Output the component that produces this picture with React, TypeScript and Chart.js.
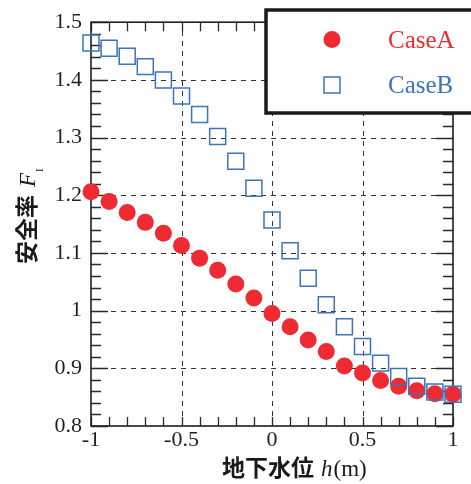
import React, { useEffect, useRef } from 'react';
import { Chart, registerables } from 'chart.js';

Chart.register(...registerables);

// ---- data ----
const waterLevels = [-1, -0.9, -0.8, -0.7, -0.6, -0.5, -0.4, -0.3, -0.2, -0.1, 0, 0.1, 0.2, 0.3, 0.4, 0.5, 0.6, 0.7, 0.8, 0.9, 1];
const caseA = [1.206, 1.189, 1.17, 1.153, 1.134, 1.113, 1.091, 1.07, 1.046, 1.022, 0.995, 0.972, 0.949, 0.929, 0.904, 0.892, 0.879, 0.869, 0.861, 0.856, 0.855];
const caseB = [1.464, 1.455, 1.441, 1.423, 1.4, 1.372, 1.34, 1.302, 1.259, 1.212, 1.157, 1.104, 1.056, 1.01, 0.972, 0.938, 0.909, 0.886, 0.869, 0.859, 0.855];
const xTicks = [-1, -0.5, 0, 0.5, 1];
const yTicks = [0.8, 0.9, 1, 1.1, 1.2, 1.3, 1.4, 1.5];
const xMinorTicks = [-1, -0.9, -0.8, -0.7, -0.6, -0.5, -0.4, -0.3, -0.2, -0.1, 0, 0.1, 0.2, 0.3, 0.4, 0.5, 0.6, 0.7, 0.8, 0.9, 1];
const yMinorTicks = [
  0.8, 0.82, 0.84, 0.86, 0.88, 0.9, 0.92, 0.94, 0.96, 0.98, 1, 1.02, 1.04, 1.06, 1.08, 1.1, 1.12, 1.14, 1.16, 1.18,
  1.2, 1.22, 1.24, 1.26, 1.28, 1.3, 1.32, 1.34, 1.36, 1.38, 1.4, 1.42, 1.44, 1.46, 1.48, 1.5,
];
const seriesNames = ['CaseA', 'CaseB'];
const xTitleCJK = '地下水位';
const xTitleVar = 'h';
const xTitleUnit = '(m)';
const yTitleCJK = '安全率';
const yTitleVar = 'F';
const yTitleSub = 'I';

const RED = '#ee2a33';
const BLUE = '#3b74ba';
const SERIF = "'Liberation Serif', 'Times New Roman', serif";
const CJK = "'Noto Sans CJK JP', 'Noto Sans CJK SC', sans-serif";

const decorPlugin = {
  id: 'decor',
  beforeDatasetsDraw(chart: any) {
    const { ctx, chartArea } = chart;
    const { left, right, top, bottom } = chartArea;
    const xs = chart.scales.x;
    const ys = chart.scales.y;
    ctx.save();
    // dashed grid
    ctx.strokeStyle = '#333';
    ctx.lineWidth = 1;
    ctx.setLineDash([5, 5]);
    for (const v of xTicks) {
      if (v <= xs.min || v >= xs.max) continue;
      const px = Math.round(xs.getPixelForValue(v)) + 0.5;
      ctx.beginPath();
      ctx.moveTo(px, bottom);
      ctx.lineTo(px, top);
      ctx.stroke();
    }
    for (const v of yTicks) {
      if (v <= ys.min || v >= ys.max) continue;
      const py = Math.round(ys.getPixelForValue(v)) + 0.5;
      ctx.beginPath();
      ctx.moveTo(left, py);
      ctx.lineTo(right, py);
      ctx.stroke();
    }
    ctx.setLineDash([]);
    // inward ticks
    ctx.strokeStyle = '#2a2a2a';
    ctx.lineWidth = 1.3;
    for (const v of xMinorTicks) {
      const px = Math.round(xs.getPixelForValue(v)) + 0.5;
      ctx.beginPath();
      ctx.moveTo(px, bottom);
      ctx.lineTo(px, bottom - 9);
      ctx.moveTo(px, top);
      ctx.lineTo(px, top + 9);
      ctx.stroke();
    }
    for (const v of yMinorTicks) {
      const py = Math.round(ys.getPixelForValue(v)) + 0.5;
      const major = yTicks.some((t) => Math.abs(t - v) < 1e-6);
      const len = major ? 17 : 10;
      ctx.beginPath();
      ctx.moveTo(left, py);
      ctx.lineTo(left + len, py);
      ctx.moveTo(right, py);
      ctx.lineTo(right - len, py);
      ctx.stroke();
    }
    // frame
    ctx.strokeStyle = '#1e1e1e';
    ctx.lineWidth = 1.6;
    ctx.strokeRect(left, top, right - left, bottom - top);
    ctx.restore();
  },
  afterDraw(chart: any) {
    const { ctx, chartArea } = chart;
    ctx.save();
    // x title
    ctx.fillStyle = '#1a1a1a';
    ctx.textBaseline = 'alphabetic';
    ctx.textAlign = 'left';
    const xStart = 222;
    const xBase = 476;
    ctx.font = `bold 23px ${CJK}`;
    ctx.fillText(xTitleCJK, xStart, xBase);
    let cx = xStart + ctx.measureText(xTitleCJK).width + 7;
    ctx.font = `italic 23px ${SERIF}`;
    ctx.fillText(xTitleVar, cx, xBase);
    cx += ctx.measureText(xTitleVar).width + 1;
    ctx.font = `23px ${SERIF}`;
    ctx.fillText(xTitleUnit, cx, xBase);

    // y title (rotated)
    ctx.save();
    ctx.translate(35, 264);
    ctx.rotate(-Math.PI / 2);
    ctx.font = `bold 23px ${CJK}`;
    ctx.fillText(yTitleCJK, 0, 0);
    let cy = ctx.measureText(yTitleCJK).width + 8;
    ctx.font = `italic 23px ${SERIF}`;
    ctx.fillText(yTitleVar, cy, 0);
    cy += ctx.measureText(yTitleVar).width + 1;
    ctx.font = `11px ${SERIF}`;
    ctx.fillText(yTitleSub, cy, 8);
    ctx.restore();

    // legend box
    ctx.fillStyle = '#ffffff';
    ctx.fillRect(266, 10, 220, 103);
    ctx.strokeStyle = '#1a1a1a';
    ctx.lineWidth = 3.5;
    ctx.strokeRect(266, 10, 220, 103);
    // markers
    ctx.fillStyle = RED;
    ctx.beginPath();
    ctx.arc(332, 39.5, 8.5, 0, Math.PI * 2);
    ctx.fill();
    ctx.strokeStyle = BLUE;
    ctx.lineWidth = 1.5;
    ctx.strokeRect(324, 77, 16, 16);
    ctx.font = `25px ${SERIF}`;
    ctx.fillStyle = RED;
    ctx.fillText(seriesNames[0], 388, 48);
    ctx.fillStyle = BLUE;
    ctx.fillText(seriesNames[1], 388, 93);
    ctx.restore();
  },
};

export default function App() {
  const canvasRef = useRef<HTMLCanvasElement | null>(null);

  useEffect(() => {
    const canvas = canvasRef.current;
    if (!canvas) return;
    const chart = new Chart(canvas, {
      type: 'scatter',
      data: {
        datasets: [
          {
            label: seriesNames[0],
            data: waterLevels.map((x, i) => ({ x, y: caseA[i] })),
            pointStyle: 'circle',
            pointRadius: 8.5,
            pointBackgroundColor: RED,
            pointBorderWidth: 0,
            pointBorderColor: RED,
            order: 1,
            clip: false,
          } as any,
          {
            label: seriesNames[1],
            data: waterLevels.map((x, i) => ({ x, y: caseB[i] })),
            pointStyle: 'rect',
            pointRadius: 11.3,
            pointBackgroundColor: 'rgba(0,0,0,0)',
            pointBorderColor: BLUE,
            pointBorderWidth: 1.5,
            order: 0,
            clip: false,
          } as any,
        ],
      },
      options: {
        responsive: false,
        animation: false,
        devicePixelRatio: 1,
        layout: { padding: { left: 0, top: 19, right: 18, bottom: 0 } },
        plugins: { legend: { display: false }, tooltip: { enabled: false } },
        scales: {
          x: {
            type: 'linear',
            min: -1,
            max: 1,
            grid: { display: false, drawTicks: false },
            border: { display: false },
            afterBuildTicks: (s: any) => {
              s.ticks = xTicks.map((v) => ({ value: v }));
            },
            afterFit: (s: any) => {
              s.height = 58;
            },
            ticks: {
              padding: 1,
              color: '#231f20',
              font: { family: SERIF, size: 22 },
              maxRotation: 0,
              callback: (v: any) => String(v),
            },
          },
          y: {
            type: 'linear',
            min: 0.8,
            max: 1.5,
            grid: { display: false, drawTicks: false },
            border: { display: false },
            afterBuildTicks: (s: any) => {
              s.ticks = yTicks.map((v) => ({ value: v }));
            },
            afterFit: (s: any) => {
              s.width = 91;
            },
            ticks: {
              padding: 9,
              color: '#231f20',
              font: { family: SERIF, size: 22 },
              callback: (v: any) => String(Number(Number(v).toFixed(2))),
            },
          },
        },
      },
      plugins: [decorPlugin],
    });
    return () => chart.destroy();
  }, []);

  return (
    <div style={{ position: 'fixed', left: 0, top: 0, width: 471, height: 484, background: '#fff' }}>
      <canvas ref={canvasRef} width={471} height={484} style={{ width: 471, height: 484, display: 'block' }} />
    </div>
  );
}
